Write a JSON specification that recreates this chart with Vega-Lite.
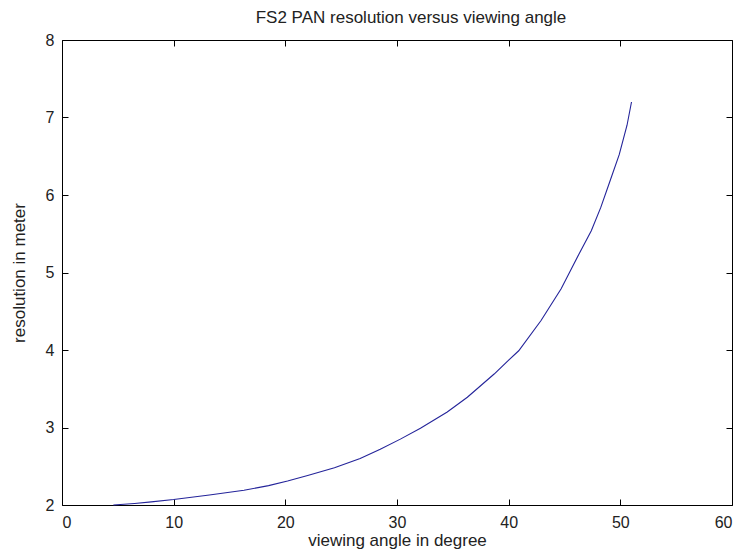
{
  "$schema": "https://vega.github.io/schema/vega-lite/v6.json",
  "autosize": {"type": "none"},
  "width": 670,
  "height": 465,
  "padding": {"left": 62, "top": 40, "right": 13, "bottom": 50},
  "background": "white",
  "title": {"text": "FS2 PAN resolution versus viewing angle", "font": "Liberation Sans", "fontSize": 17, "fontWeight": "normal", "color": "#222222", "offset": 5, "dx": 14},
  "config": {
    "view": {"stroke": "#000000", "strokeWidth": 1},
    "axis": {"domain": false, "grid": false, "tickColor": "#000000", "tickSize": -6, "labelFont": "Liberation Sans", "labelFontSize": 16, "labelColor": "#222222", "titleFont": "Liberation Sans", "titleFontSize": 17, "titleFontWeight": "normal", "titleColor": "#222222"}
  },
  "data": {"values": [
    {"angle": 4.6, "res": 2.00},
    {"angle": 6.5, "res": 2.02},
    {"angle": 8.0, "res": 2.04},
    {"angle": 10.0, "res": 2.07},
    {"angle": 13.2, "res": 2.13},
    {"angle": 16.3, "res": 2.19},
    {"angle": 18.5, "res": 2.25},
    {"angle": 20.2, "res": 2.31},
    {"angle": 22.0, "res": 2.38},
    {"angle": 24.4, "res": 2.48},
    {"angle": 26.7, "res": 2.60},
    {"angle": 28.5, "res": 2.72},
    {"angle": 30.3, "res": 2.85},
    {"angle": 32.1, "res": 2.99},
    {"angle": 34.5, "res": 3.20},
    {"angle": 36.3, "res": 3.39},
    {"angle": 38.7, "res": 3.69},
    {"angle": 40.0, "res": 3.87},
    {"angle": 40.9, "res": 3.99},
    {"angle": 42.9, "res": 4.38},
    {"angle": 44.7, "res": 4.79},
    {"angle": 46.3, "res": 5.24},
    {"angle": 47.4, "res": 5.54},
    {"angle": 48.25, "res": 5.84},
    {"angle": 49.1, "res": 6.19},
    {"angle": 49.9, "res": 6.52},
    {"angle": 50.6, "res": 6.90},
    {"angle": 51.0, "res": 7.20}
  ]},
  "layer": [
    {
      "mark": {"type": "line", "color": "#24249a", "strokeWidth": 1.1},
      "encoding": {
        "x": {"field": "angle", "type": "quantitative", "scale": {"domain": [0, 60], "nice": false, "zero": false}, "axis": {"orient": "bottom", "values": [0, 10, 20, 30, 40, 50, 60], "title": "viewing angle in degree", "labelPadding": 15, "titlePadding": 2}},
        "y": {"field": "res", "type": "quantitative", "scale": {"domain": [2, 8], "nice": false, "zero": false}, "axis": {"orient": "left", "values": [2, 3, 4, 5, 6, 7, 8], "title": "resolution in meter", "labelPadding": 14, "titlePadding": 17}}
      }
    },
    {
      "mark": {"type": "line", "strokeOpacity": 0},
      "encoding": {
        "x": {"field": "angle", "type": "quantitative", "scale": {"domain": [0, 60], "nice": false, "zero": false}, "axis": {"orient": "top", "values": [0, 10, 20, 30, 40, 50, 60], "labels": false, "title": null}},
        "y": {"field": "res", "type": "quantitative", "scale": {"domain": [2, 8], "nice": false, "zero": false}, "axis": {"orient": "right", "values": [2, 3, 4, 5, 6, 7, 8], "labels": false, "title": null}}
      }
    }
  ],
  "resolve": {"axis": {"x": "independent", "y": "independent"}}
}
